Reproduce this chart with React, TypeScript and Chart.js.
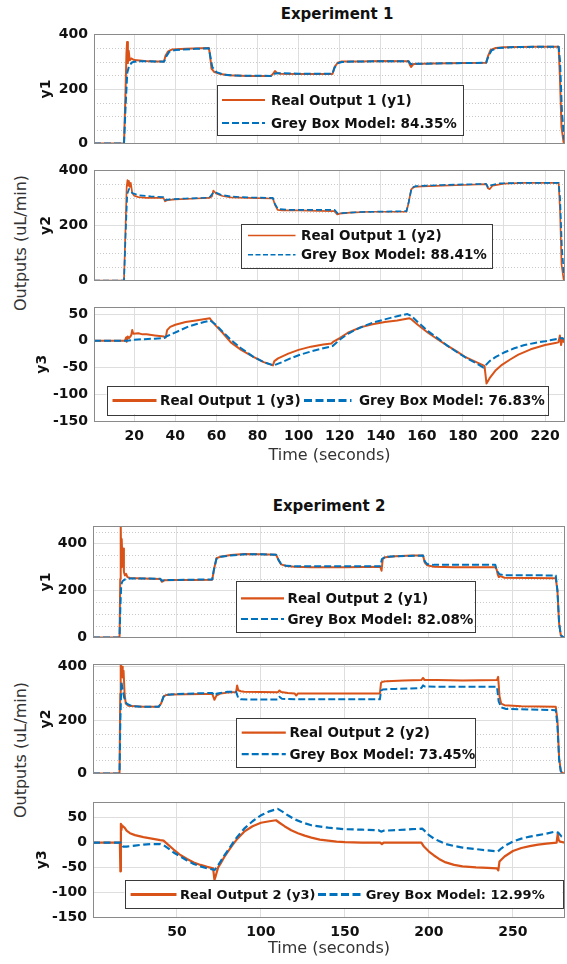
import React, { useEffect, useRef } from 'react';
import { Chart, registerables } from 'chart.js';

Chart.register(...registerables);

type Pt = [number, number];

const ORANGE = '#D95319';
const BLUE = '#0072BD';
const FONT = '"DejaVu Sans", Verdana, sans-serif';

// ---------------- tick values ----------------
const exp1TimeTicks = [20, 40, 60, 80, 100, 120, 140, 160, 180, 200, 220];
const exp2TimeTicks = [50, 100, 150, 200, 250];
const outputTicks = [0, 200, 400];
const y3Ticks = [-150, -100, -50, 0, 50];
const outputMinor = [50, 100, 150, 250, 300, 350];
const outputMinorTall = [50, 100, 150, 250, 300, 350, 450];

// ---------------- Experiment 1 : [time (s), value] ----------------
const e1y1Real: Pt[] = [[0.4,0],[15,0],[15.6,150],[16.2,330],[16.5,372],[16.9,295],[17.3,340],[17.8,305],[18.5,312],[20,306],[25,303],[30,301],[34.5,301],[35.2,322],[36.5,338],[38.5,345],[45,347],[56.3,350],[56.8,330],[57.6,275],[59,262],[62,255],[66,250],[75,248],[86.5,248],[87.5,255],[88.5,266],[89.5,259],[91,256],[100,255],[116.5,255],[117.5,280],[119,296],[121,301],[130,301],[140,303],[153.5,302],[154.2,288],[154.8,281],[156,292],[165,293],[180,295],[191.3,296],[192.2,320],[193.5,343],[196,350],[200,353],[215,355],[226.6,355],[227.2,250],[228,60],[229,5],[230,0]];
const e1y1Model: Pt[] = [[0.4,0],[15,0],[15.8,140],[16.6,260],[17.5,285],[19,298],[22,302],[30,301],[34.5,300],[35.5,318],[37,336],[40,343],[50,347],[56.3,349],[57,320],[58,280],[60,262],[64,252],[70,249],[86.5,248],[88,256],[90,258],[100,256],[116.5,256],[117.5,278],[119,294],[121,299],[130,301],[153.5,302],[154.5,292],[156,292],[170,294],[191.3,296],[192.5,322],[194,342],[197,350],[205,354],[226.6,355],[227.3,300],[228.2,120],[229.2,20],[230,2]];
const e1y2Real: Pt[] = [[0.4,0],[15,0],[15.7,180],[16.3,340],[16.7,365],[17,345],[17.4,362],[17.8,340],[18.3,355],[19,318],[20,308],[22,303],[26,300],[34.2,300],[35,288],[36,292],[40,295],[50,298],[56.5,300],[57.8,305],[58.5,327],[60,315],[63,307],[67,302],[75,300],[87.5,298],[88.5,275],[89.8,257],[92,255],[100,255],[110,253],[117.5,252],[118.8,240],[120,243],[125,247],[135,250],[152.5,250],[153.5,280],[154.8,330],[156,340],[160,342],[170,345],[180,347],[191.3,350],[192.2,335],[193,332],[194.5,345],[200,352],[210,355],[226.6,355],[227.3,250],[228,60],[229,5],[230,0]];
const e1y2Model: Pt[] = [[0.4,0],[15,0],[15.8,170],[16.6,315],[17.5,333],[19,318],[22,310],[28,306],[34.2,303],[35,292],[36,294],[45,298],[56.5,301],[58,315],[59,322],[62,312],[67,305],[75,302],[87.5,300],[88.5,278],[90,260],[95,257],[117.5,257],[119,244],[121,245],[130,249],[152.5,252],[153.6,285],[155,335],[157,343],[170,347],[191.3,351],[192.4,337],[194,347],[198,353],[210,355],[226.6,355],[227.3,300],[228.2,120],[229.2,20],[230,2]];
const e1y3Real: Pt[] = [[0.4,0],[15.5,0],[16,6],[16.3,-2],[16.8,8],[17.5,5],[18.5,10],[19,20],[19.5,13],[22,14],[24,12],[26,12],[30,10],[34.5,8],[35.3,6],[36,20],[37.5,26],[40,30],[45,35],[50,38],[56.8,42],[57.5,38],[60,27],[63,15],[67,-3],[72,-17],[78,-30],[83,-40],[87.5,-46],[88.2,-38],[90,-33],[95,-24],[100,-17],[106,-11],[112,-7],[116,-5],[116.8,-2],[120,5],[124,15],[130,25],[136,31],[142,35],[148,38],[154,42],[155,40],[158,30],[163,15],[168,2],[172,-8],[177,-20],[181,-30],[186,-39],[190.5,-47],[191.5,-80],[193,-70],[196,-55],[199,-45],[203,-35],[207,-26],[213,-16],[220,-8],[225,-4],[226.5,-3],[227.2,10],[227.8,-8],[228.4,5],[229,-2],[230,-3]];
const e1y3Model: Pt[] = [[0.4,0],[16.5,0],[20,2],[25,3],[30,4],[34.5,5],[35.5,8],[38,12],[42,19],[46,26],[50,31],[54,35],[57,38],[60,29],[63,17],[67,2],[72,-14],[78,-30],[83,-40],[88,-46],[92,-40],[96,-33],[100,-27],[106,-20],[112,-14],[116.5,-10],[118,-5],[120,2],[124,13],[128,21],[132,28],[137,35],[142,40],[148,46],[153,50],[155,46],[158,35],[163,18],[168,4],[172,-8],[177,-21],[182,-33],[186,-41],[190,-50],[193,-38],[196,-30],[200,-22],[205,-14],[210,-8],[215,-4],[220,-1],[225,3],[227.5,5],[229,4],[230,2]];

// ---------------- Experiment 2 : [time (s), value] ----------------
const e2y1Real: Pt[] = [[0,0],[15.8,0],[16.2,250],[16.5,490],[16.8,300],[17.1,420],[17.5,330],[17.9,380],[18.4,280],[19,265],[19.7,272],[20.5,258],[22,254],[30,252],[40,250],[41,238],[42.5,244],[50,246],[60,246],[71,247],[72,290],[73.5,338],[76,345],[82,352],[90,356],[100,355],[109,353],[110.5,330],[112,312],[115,305],[120,302],[130,300],[150,300],[171,302],[171.8,285],[172.5,335],[174,343],[180,347],[190,350],[196.5,350],[197.5,320],[199,308],[203,302],[215,300],[230,300],[239.5,300],[240.3,290],[241,268],[241.6,258],[242.5,262],[245,255],[260,254],[275.5,253],[276.5,200],[277.5,60],[278.5,10],[279.5,2],[281,0]];
const e2y1Model: Pt[] = [[0,0],[15.8,0],[16.3,130],[16.8,225],[17.5,240],[19,248],[21,252],[25,252],[40,251],[41,242],[42.5,245],[60,247],[71,248],[72,290],[73.5,336],[76,345],[82,350],[90,355],[100,355],[109,353],[110.5,330],[112,314],[115,306],[120,304],[171,304],[172,335],[174,344],[180,347],[196.5,350],[197.5,325],[199,313],[203,310],[239.5,310],[240.5,285],[242,270],[245,266],[275.5,265],[276.5,200],[277.5,60],[278.5,10],[280,2],[281,0]];
const e2y2Real: Pt[] = [[0,0],[15.8,0],[16.2,300],[16.5,412],[16.9,370],[17.3,400],[17.7,360],[18.2,385],[18.8,300],[19.5,262],[21,254],[25,252],[30,250],[39,250],[40.5,262],[42,288],[43.5,294],[47,296],[55,297],[65,298],[71,298],[72.3,276],[73.5,292],[76,300],[80,303],[85.2,305],[85.8,330],[86.5,312],[88,308],[90,306],[100,305],[110,304],[111,311],[112,305],[116,302],[120,300],[121,292],[122,300],[130,300],[150,300],[170.8,300],[171.5,340],[172.5,344],[175,346],[185,348],[195.5,350],[196.5,358],[197.5,350],[205,350],[220,348],[240.5,350],[241.2,362],[242,290],[243,262],[245,256],[255,252],[275.5,250],[276.5,200],[277.5,60],[278.5,10],[279.5,2],[281,0]];
const e2y2Model: Pt[] = [[0,0],[15.8,0],[16.3,200],[16.9,345],[17.5,320],[18.5,285],[20,262],[23,253],[30,250],[39,250],[40.5,262],[42,288],[43.5,295],[50,298],[71,302],[72.3,292],[74,300],[80,306],[85.2,306],[86.5,282],[88,278],[100,277],[110,277],[111,287],[112.5,280],[120,278],[170.8,278],[171.5,310],[172.5,315],[180,317],[195.5,320],[196.5,330],[197.5,326],[205,325],[240.5,325],[241.5,270],[243,248],[246,242],[260,240],[275.5,237],[276.5,180],[277.5,50],[278.5,8],[280,1],[281,0]];
const e2y3Real: Pt[] = [[0,0],[16,0],[16.3,-58],[16.6,38],[16.9,25],[17.3,35],[18,32],[18.8,30],[20,24],[22,19],[25,15],[30,11],[35,8],[40,5],[42,4],[45,-5],[48,-14],[52,-25],[56,-33],[60,-40],[64,-45],[68,-49],[71.5,-52],[72.3,-75],[73,-68],[74.5,-50],[76,-42],[78,-30],[80,-20],[83,-5],[86,8],[90,22],[95,33],[100,40],[105,43],[109,45],[111,40],[114,33],[118,25],[122,19],[126,14],[130,10],[135,6],[140,4],[145,2],[150,1],[160,0],[171,0],[172,-3],[173,0],[185,0],[195.5,0],[197,-8],[200,-18],[203,-26],[206,-33],[210,-40],[215,-45],[220,-48],[228,-50],[235,-51],[240.5,-52],[241.3,-56],[242,-38],[245,-28],[250,-17],[255,-11],[260,-7],[265,-4],[270,-2],[276,0],[276.7,18],[277.2,5],[278,2],[281,0]];
const e2y3Model: Pt[] = [[0,0],[16.5,0],[18,-8],[20,-8],[25,-6],[30,-4],[35,-3],[40,-3],[42,-5],[45,-12],[48,-20],[52,-28],[56,-36],[60,-43],[64,-48],[68,-52],[72.5,-55],[74,-48],[76,-38],[78,-27],[80,-17],[83,-2],[86,12],[90,28],[95,43],[100,55],[105,63],[110,68],[113,62],[116,55],[120,47],[125,40],[130,35],[140,30],[150,27],[160,26],[170,25],[171.5,22],[173,24],[180,25],[190,27],[196,28],[198,22],[200,15],[203,8],[206,3],[210,-3],[215,-7],[220,-10],[230,-14],[241,-18],[243,-12],[246,-5],[250,2],[255,8],[260,12],[265,15],[270,18],[275,22],[277,20],[279,12],[281,8]];

// ---------------- legend labels ----------------
const e1y1Labels = ['Real Output 1 (y1)', 'Grey Box Model: 84.35%'];
const e1y2Labels = ['Real Output 1 (y2)', 'Grey Box Model: 88.41%'];
const e1y3Labels = ['Real Output 1 (y3)', 'Grey Box Model: 76.83%'];
const e2y1Labels = ['Real Output 2 (y1)', 'Grey Box Model: 82.08%'];
const e2y2Labels = ['Real Output 2 (y2)', 'Grey Box Model: 73.45%'];
const e2y3Labels = ['Real Output 2 (y3)', 'Grey Box Model: 12.99%'];

// ---------------- layout ----------------
type LegendRow = { y: number; x0: number; x1: number; tx: number; which: 0 | 1 };
type Spec = {
  key: string;
  top: number; bottom: number; left: number; right: number;
  yMin: number; yMax: number; yTicks: number[]; minor: number[];
  ylabel: string; ylabelX: number;
  xMin: number; xMax: number; xTicks: number[]; showX: boolean; xAxisH: number; bottomExtra: number;
  real: Pt[]; model: Pt[]; labels: string[];
  lw: number; dash: number[];
  legend: { box: [number, number, number, number]; rows: LegendRow[]; font: number; lw: number; dash: number[] };
};

const E1X = { xMin: 0.4, xMax: 229.7, xTicks: exp1TimeTicks };
const E2X = { xMin: 0, xMax: 281, xTicks: exp2TimeTicks };

const specs: Spec[] = [
  {
    key: 'e1p1', top: 34, bottom: 148, left: 94, right: 565,
    yMin: 0, yMax: 400, yTicks: outputTicks, minor: outputMinor, ylabel: 'y1', ylabelX: 46,
    ...E1X, showX: false, xAxisH: 0, bottomExtra: 10,
    real: e1y1Real, model: e1y1Model, labels: e1y1Labels, lw: 2, dash: [7, 3],
    legend: { box: [217, 84.5, 463, 134.5], font: 13.5, lw: 2.2, dash: [7, 3], rows: [
      { y: 100, x0: 222, x1: 265, tx: 271, which: 0 },
      { y: 123, x0: 222, x1: 265, tx: 271, which: 1 },
    ] },
  },
  {
    key: 'e1p2', top: 170, bottom: 285, left: 94, right: 565,
    yMin: 0, yMax: 400, yTicks: outputTicks, minor: outputMinor, ylabel: 'y2', ylabelX: 46,
    ...E1X, showX: false, xAxisH: 0, bottomExtra: 10,
    real: e1y2Real, model: e1y2Model, labels: e1y2Labels, lw: 1.7, dash: [6, 3],
    legend: { box: [241, 223.7, 491.5, 267.3], font: 13.5, lw: 1.6, dash: [5, 2.5], rows: [
      { y: 235.5, x0: 248, x1: 295.5, tx: 301, which: 0 },
      { y: 254.7, x0: 248, x1: 295.5, tx: 301, which: 1 },
    ] },
  },
  {
    key: 'e1p3', top: 307, bottom: 421, left: 94, right: 565,
    yMin: -150, yMax: 62.4, yTicks: y3Ticks, minor: [], ylabel: 'y3', ylabelX: 42,
    ...E1X, showX: true, xAxisH: 44, bottomExtra: 44,
    real: e1y3Real, model: e1y3Model, labels: e1y3Labels, lw: 2, dash: [7, 3],
    legend: { box: [106.5, 385.5, 547, 414], font: 13.5, lw: 2.8, dash: [8, 3.5], rows: [
      { y: 400.5, x0: 112.5, x1: 156.5, tx: 160, which: 0 },
      { y: 400.5, x0: 304, x1: 351.5, tx: 359, which: 1 },
    ] },
  },
  {
    key: 'e2p1', top: 526, bottom: 642, left: 93, right: 565,
    yMin: 0, yMax: 474, yTicks: outputTicks, minor: outputMinorTall, ylabel: 'y1', ylabelX: 46,
    ...E2X, showX: false, xAxisH: 0, bottomExtra: 10,
    real: e2y1Real, model: e2y1Model, labels: e2y1Labels, lw: 2, dash: [7, 3],
    legend: { box: [235.5, 580.7, 474, 631.7], font: 13.5, lw: 2.2, dash: [7, 3], rows: [
      { y: 598.3, x0: 241, x1: 284, tx: 287.5, which: 0 },
      { y: 619, x0: 241, x1: 284, tx: 287.5, which: 1 },
    ] },
  },
  {
    key: 'e2p2', top: 664, bottom: 778, left: 93, right: 565,
    yMin: 0, yMax: 408.6, yTicks: outputTicks, minor: outputMinor, ylabel: 'y2', ylabelX: 46,
    ...E2X, showX: false, xAxisH: 0, bottomExtra: 10,
    real: e2y2Real, model: e2y2Model, labels: e2y2Labels, lw: 2, dash: [7, 3],
    legend: { box: [236.3, 718, 475.7, 766.7], font: 13.5, lw: 2.2, dash: [7, 3], rows: [
      { y: 732.7, x0: 241.7, x1: 285.8, tx: 289.4, which: 0 },
      { y: 754.2, x0: 241.7, x1: 285.8, tx: 289.4, which: 1 },
    ] },
  },
  {
    key: 'e2p3', top: 802, bottom: 917, left: 93, right: 565,
    yMin: -150, yMax: 81, yTicks: y3Ticks, minor: [], ylabel: 'y3', ylabelX: 42.5,
    ...E2X, showX: true, xAxisH: 41, bottomExtra: 41,
    real: e2y3Real, model: e2y3Model, labels: e2y3Labels, lw: 2.2, dash: [7, 3.5],
    legend: { box: [124.5, 880, 562, 908], font: 13, lw: 2.8, dash: [8, 3.5], rows: [
      { y: 894.5, x0: 130.6, x1: 176.5, tx: 180, which: 0 },
      { y: 894.5, x0: 318, x1: 362.8, tx: 365.7, which: 1 },
    ] },
  },
];

const PAD_TOP = 14;

function toPts(a: Pt[]) {
  return a.map(([x, y]) => ({ x, y }));
}

function makeDecor(spec: Spec, canvasTop: number) {
  return {
    id: 'decor_' + spec.key,
    beforeDatasetsDraw(chart: any) {
      const { ctx, chartArea: a } = chart;
      const ys = chart.scales.y;
      ctx.save();
      ctx.strokeStyle = '#c9c9c9';
      ctx.lineWidth = 1;
      ctx.setLineDash([1, 2]);
      spec.minor.forEach((v) => {
        const y = Math.round(ys.getPixelForValue(v)) + 0.5;
        ctx.beginPath();
        ctx.moveTo(a.left, y);
        ctx.lineTo(a.right, y);
        ctx.stroke();
      });
      ctx.restore();
    },
    afterDatasetsDraw(chart: any) {
      const { ctx, chartArea: a } = chart;
      ctx.save();
      ctx.setLineDash([]);
      ctx.strokeStyle = '#8a8a8a';
      ctx.lineWidth = 1;
      ctx.strokeRect(Math.round(a.left) + 0.5, Math.round(a.top) + 0.5, Math.round(a.right - a.left) - 1, Math.round(a.bottom - a.top));
      const L = spec.legend;
      const [bx0, by0, bx1, by1] = L.box;
      const y0 = by0 - canvasTop;
      const y1 = by1 - canvasTop;
      ctx.fillStyle = '#ffffff';
      ctx.fillRect(bx0, y0, bx1 - bx0, y1 - y0);
      ctx.strokeStyle = '#3a3a3a';
      ctx.strokeRect(Math.round(bx0) + 0.5, Math.round(y0) + 0.5, Math.round(bx1 - bx0), Math.round(y1 - y0));
      ctx.font = `bold ${L.font}px ${FONT}`;
      ctx.textBaseline = 'middle';
      ctx.textAlign = 'left';
      L.rows.forEach((r) => {
        const y = r.y - canvasTop;
        ctx.strokeStyle = r.which === 0 ? ORANGE : BLUE;
        ctx.lineWidth = L.lw;
        ctx.setLineDash(r.which === 0 ? [] : L.dash);
        ctx.beginPath();
        ctx.moveTo(r.x0, y);
        ctx.lineTo(r.x1, y);
        ctx.stroke();
        ctx.setLineDash([]);
        ctx.fillStyle = '#111111';
        ctx.fillText(spec.labels[r.which], r.tx, y + 1);
      });
      ctx.restore();
    },
  };
}

function Panel({ spec }: { spec: Spec }) {
  const ref = useRef<HTMLCanvasElement | null>(null);
  const canvasTop = spec.top - PAD_TOP;
  const canvasH = spec.bottom + spec.bottomExtra - canvasTop;

  useEffect(() => {
    if (!ref.current) return;
    const tickFont = { family: FONT, size: 14, weight: 'bold' as const };
    const chart = new Chart(ref.current, {
      type: 'line',
      data: {
        datasets: [
          {
            data: toPts(spec.model), borderColor: BLUE, borderWidth: spec.lw, borderDash: spec.dash,
            pointRadius: 0, fill: false, tension: 0, borderJoinStyle: 'round',
          },
          {
            data: toPts(spec.real), borderColor: ORANGE, borderWidth: spec.lw,
            pointRadius: 0, fill: false, tension: 0, borderJoinStyle: 'round',
          },
        ],
      },
      options: {
        responsive: false,
        animation: false,
        devicePixelRatio: 1,
        events: [],
        layout: {
          autoPadding: false,
          padding: { left: 0, top: PAD_TOP, right: 567 - spec.right, bottom: spec.bottomExtra - spec.xAxisH },
        },
        plugins: { legend: { display: false }, tooltip: { enabled: false }, title: { display: false } },
        scales: {
          x: {
            type: 'linear',
            min: spec.xMin,
            max: spec.xMax,
            afterBuildTicks: (s: any) => { s.ticks = spec.xTicks.map((v) => ({ value: v })); },
            afterFit: (s: any) => { s.height = spec.xAxisH; },
            ticks: {
              display: spec.showX, font: tickFont, color: '#111', padding: 7,
              maxRotation: 0, autoSkip: false, callback: (v: any) => String(v),
            },
            grid: { color: '#dedede', drawTicks: false, lineWidth: 1 },
            border: { display: false },
            title: {
              display: spec.showX, text: 'Time (seconds)', color: '#333',
              font: { family: FONT, size: 16 }, padding: { top: 0, bottom: 0 },
            },
          },
          y: {
            type: 'linear',
            min: spec.yMin,
            max: spec.yMax,
            afterBuildTicks: (s: any) => { s.ticks = spec.yTicks.map((v) => ({ value: v })); },
            afterFit: (s: any) => { s.width = spec.left; },
            ticks: { font: tickFont, color: '#111', padding: 6, autoSkip: false, callback: (v: any) => String(v) },
            grid: { color: '#dedede', drawTicks: false, lineWidth: 1 },
            border: { display: false },
            title: {
              display: true, text: spec.ylabel, color: '#111',
              font: { family: FONT, size: 14, weight: 'bold' },
              padding: { top: spec.ylabelX - 8.4, bottom: 0 },
            },
          },
        },
      },
      plugins: [makeDecor(spec, canvasTop)],
    } as any);
    return () => chart.destroy();
  }, [spec]);

  return (
    <canvas
      ref={ref}
      width={567}
      height={canvasH}
      style={{ position: 'absolute', left: 0, top: canvasTop, width: 567, height: canvasH }}
    />
  );
}

const titleStyle = (cx: number, cy: number): React.CSSProperties => ({
  position: 'absolute', left: cx, top: cy, transform: 'translate(-50%, -50%)',
  font: `bold 15px ${FONT}`, lineHeight: 1, whiteSpace: 'nowrap', color: '#111',
});

const ylabStyle = (cx: number, cy: number): React.CSSProperties => ({
  position: 'absolute', left: cx, top: cy, transform: 'translate(-50%, -50%) rotate(-90deg)',
  font: `16px ${FONT}`, lineHeight: 1, whiteSpace: 'nowrap', color: '#333',
});

export default function App() {
  return (
    <div style={{ position: 'absolute', left: 0, top: 0, width: 567, height: 964, background: '#fff', overflow: 'hidden' }}>
      <div style={titleStyle(337, 14)}>Experiment 1</div>
      <div style={titleStyle(329, 505.5)}>Experiment 2</div>
      <div style={ylabStyle(20.5, 243)}>Outputs (uL/min)</div>
      <div style={ylabStyle(20.5, 750)}>Outputs (uL/min)</div>
      {specs.map((s) => (
        <Panel key={s.key} spec={s} />
      ))}
    </div>
  );
}
